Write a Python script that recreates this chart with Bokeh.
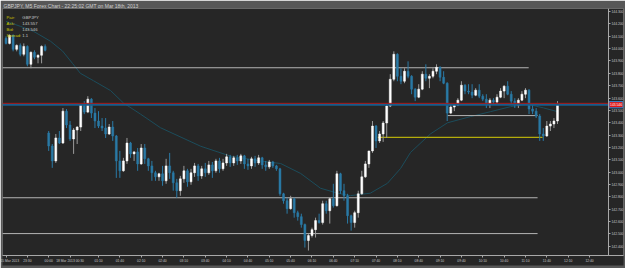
from bokeh.plotting import figure
from bokeh.models import Range1d, FixedTicker, NumeralTickFormatter, ColumnDataSource
from bokeh.embed import file_html
from bokeh.resources import INLINE
from bokeh.core.properties import value

# ---------------- data (GBPJPY M5) ----------------
opens = [144.083, 144.042, 144.107, 143.994, 144.026, 143.954, 144.018, 143.873, 143.970, 143.930,
         143.946, 144.018,
         143.317, 143.212, 143.091, 143.277, 143.236, 143.494, 143.382, 143.269, 143.341, 143.365,
         143.543, 143.486, 143.591, 143.478, 143.414, 143.373, 143.357, 143.309, 143.365, 143.293,
         143.091, 143.011, 143.091, 143.236, 143.148, 143.164, 143.067, 143.196, 143.108, 143.051,
         142.995, 142.962, 142.987, 142.930, 143.051, 142.995, 142.914, 142.850, 142.946, 143.011,
         142.922, 142.995, 143.051, 142.970, 143.027, 142.995, 143.059, 143.011, 143.091, 143.027,
         143.075, 143.124, 143.075, 143.116, 143.091, 143.132, 143.067, 143.051, 143.108, 143.075,
         143.116, 143.059, 143.043, 143.083, 143.051, 143.027, 142.825, 142.769, 142.705, 142.785,
         142.672, 142.640, 142.576, 142.447, 142.487, 142.535, 142.608, 142.592, 142.745, 142.688,
         142.785, 142.729, 142.987, 142.850, 142.809, 142.648, 142.592, 142.672, 142.825, 142.962,
         143.067, 143.172, 143.373, 143.253, 143.309, 143.398, 143.535, 143.752, 143.954, 143.776,
         143.736, 143.817, 143.776, 143.672, 143.607, 143.672, 143.793, 143.760, 143.776, 143.817,
         143.849, 143.768, 143.720, 143.478, 143.527, 143.543, 143.583, 143.704, 143.656, 143.648,
         143.623, 143.664, 143.615, 143.591, 143.543, 143.583, 143.567, 143.607, 143.656, 143.696,
         143.631, 143.575, 143.543, 143.583, 143.631, 143.664, 143.511, 143.494, 143.454, 143.309,
         143.293, 143.373, 143.390, 143.414]
highs = [144.099, 144.115, 144.115, 144.034, 144.042, 144.042, 144.026, 143.978, 143.986, 143.954,
         144.026, 144.034,
         143.333, 143.228, 143.309, 143.333, 143.519, 143.511, 143.414, 143.357, 143.373, 143.551,
         143.575, 143.615, 143.599, 143.519, 143.494, 143.438, 143.438, 143.390, 143.414, 143.301,
         143.172, 143.116, 143.277, 143.245, 143.172, 143.196, 143.228, 143.228, 143.116, 143.091,
         143.011, 142.995, 143.051, 143.108, 143.156, 143.011, 142.946, 142.970, 143.051, 143.027,
         143.027, 143.075, 143.067, 143.051, 143.075, 143.091, 143.083, 143.108, 143.116, 143.108,
         143.148, 143.140, 143.132, 143.140, 143.148, 143.140, 143.108, 143.124, 143.132, 143.140,
         143.124, 143.091, 143.099, 143.091, 143.059, 143.035, 142.833, 142.793, 142.809, 142.793,
         142.688, 142.664, 142.584, 142.503, 142.551, 142.632, 142.664, 142.769, 142.769, 142.793,
         142.906, 143.011, 142.995, 142.906, 142.825, 142.656, 142.688, 142.850, 143.011, 143.091,
         143.172, 143.414, 143.382, 143.333, 143.414, 143.551, 143.793, 143.978, 143.962, 143.841,
         143.841, 143.897, 143.785, 143.680, 143.712, 143.817, 143.873, 143.793, 143.841, 143.873,
         143.857, 143.817, 143.728, 143.551, 143.551, 143.599, 143.736, 143.712, 143.712, 143.712,
         143.680, 143.712, 143.631, 143.631, 143.599, 143.599, 143.631, 143.680, 143.704, 143.736,
         143.656, 143.599, 143.599, 143.656, 143.680, 143.672, 143.551, 143.519, 143.470, 143.357,
         143.414, 143.414, 143.438, 143.575]
lows = [144.034, 144.034, 143.978, 143.978, 143.938, 143.938, 143.857, 143.841, 143.914, 143.881,
        143.881, 143.978,
        143.172, 143.035, 143.075, 143.228, 143.228, 143.357, 143.253, 143.148, 143.228, 143.333,
        143.470, 143.478, 143.438, 143.357, 143.357, 143.333, 143.277, 143.301, 143.253, 142.954,
        142.954, 143.003, 143.067, 143.116, 143.091, 143.011, 143.059, 143.067, 143.011, 142.930,
        142.930, 142.930, 142.890, 142.906, 142.946, 142.850, 142.793, 142.809, 142.914, 142.882,
        142.898, 142.962, 142.930, 142.946, 142.962, 142.979, 142.954, 142.995, 142.995, 143.011,
        143.051, 143.043, 143.051, 143.059, 143.067, 143.027, 143.019, 143.027, 143.043, 143.059,
        143.027, 143.011, 143.027, 143.035, 143.011, 142.809, 142.745, 142.664, 142.696, 142.632,
        142.608, 142.551, 142.390, 142.366, 142.471, 142.471, 142.584, 142.576, 142.664, 142.584,
        142.713, 142.721, 142.825, 142.769, 142.584, 142.527, 142.551, 142.632, 142.817, 142.954,
        143.035, 143.156, 143.196, 143.236, 143.245, 143.277, 143.527, 143.736, 143.736, 143.712,
        143.720, 143.760, 143.631, 143.575, 143.599, 143.664, 143.736, 143.680, 143.760, 143.793,
        143.736, 143.712, 143.414, 143.470, 143.494, 143.535, 143.575, 143.631, 143.631, 143.599,
        143.615, 143.599, 143.575, 143.519, 143.519, 143.551, 143.551, 143.599, 143.599, 143.623,
        143.551, 143.519, 143.519, 143.575, 143.599, 143.470, 143.470, 143.438, 143.253, 143.253,
        143.285, 143.333, 143.357, 143.390]
closes = [144.042, 144.107, 143.994, 144.026, 143.954, 144.018, 143.873, 143.970, 143.930, 143.946,
          144.018, 143.986,
          143.212, 143.091, 143.277, 143.236, 143.494, 143.382, 143.269, 143.341, 143.365, 143.543,
          143.486, 143.591, 143.478, 143.414, 143.373, 143.357, 143.309, 143.365, 143.293, 143.091,
          143.011, 143.091, 143.236, 143.148, 143.164, 143.067, 143.196, 143.108, 143.051, 142.995,
          142.962, 142.987, 142.930, 143.051, 142.995, 142.914, 142.850, 142.946, 143.011, 142.922,
          142.995, 143.051, 142.970, 143.027, 142.995, 143.059, 143.011, 143.091, 143.027, 143.075,
          143.124, 143.075, 143.116, 143.091, 143.132, 143.067, 143.051, 143.108, 143.075, 143.116,
          143.059, 143.043, 143.083, 143.051, 143.027, 142.825, 142.769, 142.705, 142.785, 142.672,
          142.640, 142.576, 142.447, 142.487, 142.535, 142.608, 142.592, 142.745, 142.688, 142.785,
          142.729, 142.987, 142.850, 142.809, 142.648, 142.592, 142.672, 142.825, 142.962, 143.067,
          143.172, 143.373, 143.253, 143.309, 143.398, 143.535, 143.752, 143.954, 143.776, 143.736,
          143.817, 143.776, 143.672, 143.607, 143.672, 143.793, 143.760, 143.776, 143.817, 143.849,
          143.768, 143.720, 143.478, 143.527, 143.543, 143.583, 143.704, 143.656, 143.648, 143.623,
          143.664, 143.615, 143.591, 143.543, 143.583, 143.567, 143.607, 143.656, 143.696, 143.631,
          143.575, 143.543, 143.583, 143.631, 143.664, 143.511, 143.494, 143.454, 143.309, 143.293,
          143.373, 143.390, 143.414, 143.546]
bars = list(range(len(closes)))

# moving average read at sample points (bar index, price)
ma_bar = [0, 4.1, 7.7, 12.5, 15.9, 18.7, 20.9, 24.6, 29.4, 33.0, 37.8, 43.4, 54.7, 63.1, 71.5,
          77.2, 82.8, 88.4, 93.2, 96.8, 99.6, 102.4, 107.2, 110.9, 113.7, 119.3, 124.1, 130.6,
          136.2, 141.8, 146.6, 151.1, 155.0]
ma_price = [144.22, 144.18, 144.14, 144.06, 143.98, 143.88, 143.80, 143.74, 143.66, 143.56,
            143.47, 143.36, 143.21, 143.13, 143.09, 143.07, 142.99, 142.87, 142.83, 142.81,
            142.82, 142.83, 142.91, 143.03, 143.16, 143.31, 143.40, 143.45, 143.49, 143.53,
            143.55, 143.52, 143.49]

# horizontal levels
level_price = [143.845, 142.793, 142.503, 143.458]
level_from = [-1.0, -1.0, -1.0, 124.1]
level_to = [146.9, 149.4, 149.4, 149.4]
yellow_price = [143.281]
yellow_from = [104.5]
yellow_to = [150.8]

bid = 143.546
ask = 143.557

price_ticks = [142.4, 142.5, 142.6, 142.7, 142.8, 142.9, 143.0, 143.1, 143.2, 143.3,
               143.4, 143.5, 143.6, 143.7, 143.8, 143.9, 144.0, 144.1, 144.2, 144.3]
time_ticks = [0, 6, 12, 18, 26, 32, 38, 44, 50, 56, 62, 68, 74, 80, 86, 92, 98, 104, 110,
              116, 122, 128, 134, 140, 146, 152, 158, 164]
time_labels = ["15 Mar 2013", "23:30", "00:00", "18 Mar 2013 00:30", "01:10", "01:40", "02:10",
               "02:40", "03:10", "03:40", "04:10", "04:40", "05:10", "05:40", "06:10", "06:40",
               "07:10", "07:40", "08:10", "08:40", "09:10", "09:40", "10:10", "10:40", "11:10",
               "11:40", "12:10", "12:40"]

info_names = ["Pair:", "Ask:", "Bid:", "Spread:"]
info_values = ["GBPJPY", "143.557", "143.546", "1.1"]

# ---------------- layout constants ----------------
BG = "#262626"
STRIP = "#575757"
FONT = "Liberation Sans"
X0, X_SCALE_END = -0.984, 169.34       # price scale sits at x = 169.34 (bar units)
X_END = 173.55                          # frame runs on under the price labels

p = figure(width=625, height=268, output_backend="svg", toolbar_location=None,
           x_range=Range1d(X0, X_END), y_range=Range1d(142.3257, 144.3246),
           y_axis_location="right",
           min_border_left=2, min_border_right=2, min_border_top=7, min_border_bottom=13)
p.background_fill_color = BG
p.border_fill_color = STRIP
p.outline_line_color = None
p.grid.visible = False

p.title.text = "GBPJPY, M5 Forex Chart - 22:25:02 GMT on Mar 18th, 2013"
p.title.text_font = FONT
p.title.text_font_size = "5px"
p.title.text_font_style = "normal"
p.title.text_color = "#d0d0d0"
p.title.align = "left"
p.title.standoff = 0
p.title.offset = 1

for ax in p.axis:
    ax.axis_line_color = "#a8a8a8"
    ax.major_tick_line_color = "#a8a8a8"
    ax.major_tick_in = 0
    ax.major_tick_out = 2
    ax.minor_tick_line_color = None
    ax.major_label_text_font = FONT
    ax.major_label_text_font_size = "3.3px"
    ax.major_label_text_color = "#c8c8c8"
    ax.major_label_standoff = 1

for ax in p.xaxis:
    if "background_fill_color" in ax.properties():
        ax.background_fill_color = BG

p.yaxis.ticker = FixedTicker(ticks=price_ticks)
p.yaxis.formatter = NumeralTickFormatter(format="0.000")
p.yaxis.fixed_location = X_SCALE_END
p.xaxis.ticker = FixedTicker(ticks=time_ticks)
p.xaxis.major_label_overrides = {t: s for t, s in zip(time_ticks, time_labels)}
p.xaxis.major_label_text_align = "left"

# ---------------- candles ----------------
up = [c >= o for o, c in zip(opens, closes)]
src = ColumnDataSource(dict(
    x=bars, o=opens, h=highs, l=lows, c=closes,
    top=[max(o, c) for o, c in zip(opens, closes)],
    bottom=[min(o, c) for o, c in zip(opens, closes)],
    body=["#ffffff" if u else "#2a7aa6" for u in up],
    wick=["#9a9a9a" if u else "#2a7aa6" for u in up],
))

p.line(ma_bar, ma_price, line_color="#1c4d5c", line_width=1)
p.segment(x0=level_from, y0=level_price, x1=level_to, y1=level_price,
          line_color="#b4b4b4", line_width=1)
p.segment(x0=yellow_from, y0=yellow_price, x1=yellow_to, y1=yellow_price,
          line_color="#b4ac0c", line_width=1.2)

p.segment(x0="x", y0="l", x1="x", y1="h", line_color="wick", line_width=1, source=src)
p.vbar(x="x", width=0.55, top="top", bottom="bottom", fill_color="body",
       line_color="body", line_width=0.5, source=src)

# bid / ask lines up to the price scale
p.segment(x0=[X0], y0=[bid], x1=[X_SCALE_END], y1=[bid], line_color="#175c8c", line_width=2)
p.segment(x0=[X0], y0=[ask], x1=[X_SCALE_END], y1=[ask], line_color="#a81c1c", line_width=1)

# current price tag on the price scale
p.rect(x=[X_SCALE_END + 2.1], y=[bid], width=3.95, height=0.05,
       fill_color="#e01515", line_color="#2a8ad8", line_width=1)
p.text(x=[X_SCALE_END + 0.45], y=[bid], text=["%.3f" % bid], text_color="#ffffff",
       text_font=value(FONT), text_font_size="3.3px", text_baseline="middle",
       text_align="left")

# info box
p.text(x=[0.15] * 4, y=[144.252, 144.204, 144.155, 144.107], text=info_names,
       text_color="#c8c800", text_font=value(FONT), text_font_size="4.2px",
       text_baseline="middle")
p.text(x=[4.6] * 4, y=[144.252, 144.204, 144.155, 144.107], text=info_values,
       text_color="#c8c8c8", text_font=value(FONT), text_font_size="4.2px",
       text_baseline="middle")

open("out.html", "w").write(file_html(p, INLINE))
